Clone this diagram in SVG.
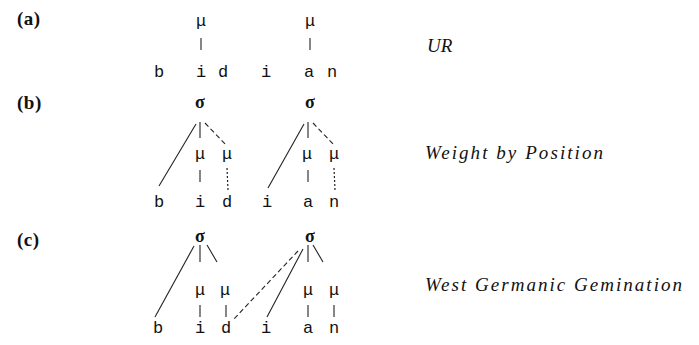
<svg xmlns="http://www.w3.org/2000/svg" width="699" height="345" viewBox="0 0 699 345">
<style>
.lab{font-family:"Liberation Serif",serif;font-weight:bold;font-size:19px;fill:#111;letter-spacing:0.5px}
.seg{font-family:"Liberation Mono",monospace;font-size:17px;fill:#111;text-anchor:middle}
.mu{font-family:"Liberation Mono",monospace;font-size:17px;fill:#111;text-anchor:middle}
.sig{font-family:"Liberation Serif",serif;font-weight:bold;font-size:18px;fill:#111;text-anchor:middle}
.rule{font-family:"Liberation Serif",serif;font-style:italic;font-size:19px;fill:#111}
.ln{stroke:#222;stroke-width:1.1;fill:none}
.dash{stroke:#222;stroke-width:1.1;fill:none;stroke-dasharray:5 3}
.dot{stroke:#222;stroke-width:1.2;fill:none;stroke-dasharray:2 2}
</style>
<rect width="699" height="345" fill="#fff"/>
<g id="labels">
<text class="lab" x="17" y="25">(a)</text>
<text class="lab" x="17" y="109">(b)</text>
<text class="lab" x="17" y="246">(c)</text>
<text class="rule" x="427" y="52">UR</text>
<text class="rule" x="425" y="159" textLength="178" lengthAdjust="spacing">Weight by Position</text>
<text class="rule" x="425" y="291" textLength="257" lengthAdjust="spacing">West Germanic Gemination</text>
</g>
<g id="row-a">
<text class="mu" x="201" y="26">μ</text>
<text class="mu" x="310" y="26">μ</text>
<text class="seg" x="159" y="77">b</text>
<text class="seg" x="201" y="77">i</text>
<text class="seg" x="223" y="77">d</text>
<text class="seg" x="266" y="77">i</text>
<text class="seg" x="309" y="77">a</text>
<text class="seg" x="332" y="77">n</text>
</g>
<g id="row-b">
<text class="sig" x="200" y="108">σ</text>
<text class="sig" x="310" y="108">σ</text>
<text class="mu" x="200" y="159">μ</text>
<text class="mu" x="227" y="159">μ</text>
<text class="mu" x="307" y="159">μ</text>
<text class="mu" x="334" y="159">μ</text>
<text class="seg" x="159" y="207">b</text>
<text class="seg" x="200" y="207">i</text>
<text class="seg" x="227" y="207">d</text>
<text class="seg" x="267" y="207">i</text>
<text class="seg" x="308" y="207">a</text>
<text class="seg" x="334" y="207">n</text>
</g>
<g id="row-c">
<text class="sig" x="200" y="242">σ</text>
<text class="sig" x="310" y="242">σ</text>
<text class="mu" x="200" y="295">μ</text>
<text class="mu" x="225" y="295">μ</text>
<text class="mu" x="308" y="295">μ</text>
<text class="mu" x="334" y="295">μ</text>
<text class="seg" x="158" y="333">b</text>
<text class="seg" x="200" y="333">i</text>
<text class="seg" x="226" y="333">d</text>
<text class="seg" x="266" y="333">i</text>
<text class="seg" x="308" y="333">a</text>
<text class="seg" x="334" y="333">n</text>
</g>
<g id="connectors">
<line class="ln" x1="201" y1="38" x2="201" y2="50"/>
<line class="ln" x1="310" y1="38" x2="310" y2="50"/>
<line class="ln" x1="196" y1="124" x2="159" y2="186"/>
<line class="ln" x1="200" y1="122" x2="200" y2="138"/>
<line class="dash" x1="205" y1="123" x2="226" y2="145"/>
<line class="ln" x1="200" y1="170" x2="200" y2="182"/>
<line class="dot" x1="227" y1="168" x2="228" y2="190"/>
<line class="ln" x1="304" y1="124" x2="268" y2="188"/>
<line class="ln" x1="308" y1="122" x2="308" y2="138"/>
<line class="dash" x1="313" y1="123" x2="334" y2="145"/>
<line class="ln" x1="308" y1="170" x2="308" y2="182"/>
<line class="dot" x1="334" y1="168" x2="335" y2="190"/>
<line class="ln" x1="194" y1="246" x2="155" y2="317"/>
<line class="ln" x1="200" y1="245" x2="200" y2="262"/>
<line class="ln" x1="207" y1="245" x2="217" y2="262"/>
<line class="ln" x1="200" y1="305" x2="200" y2="317"/>
<line class="ln" x1="226" y1="305" x2="226" y2="317"/>
<line class="dash" x1="298" y1="251" x2="233" y2="320"/>
<line class="ln" x1="303" y1="249" x2="267" y2="317"/>
<line class="ln" x1="308" y1="245" x2="308" y2="262"/>
<line class="ln" x1="313" y1="245" x2="323" y2="262"/>
<line class="ln" x1="308" y1="305" x2="308" y2="317"/>
<line class="ln" x1="334" y1="305" x2="334" y2="317"/>
</g>
</svg>
